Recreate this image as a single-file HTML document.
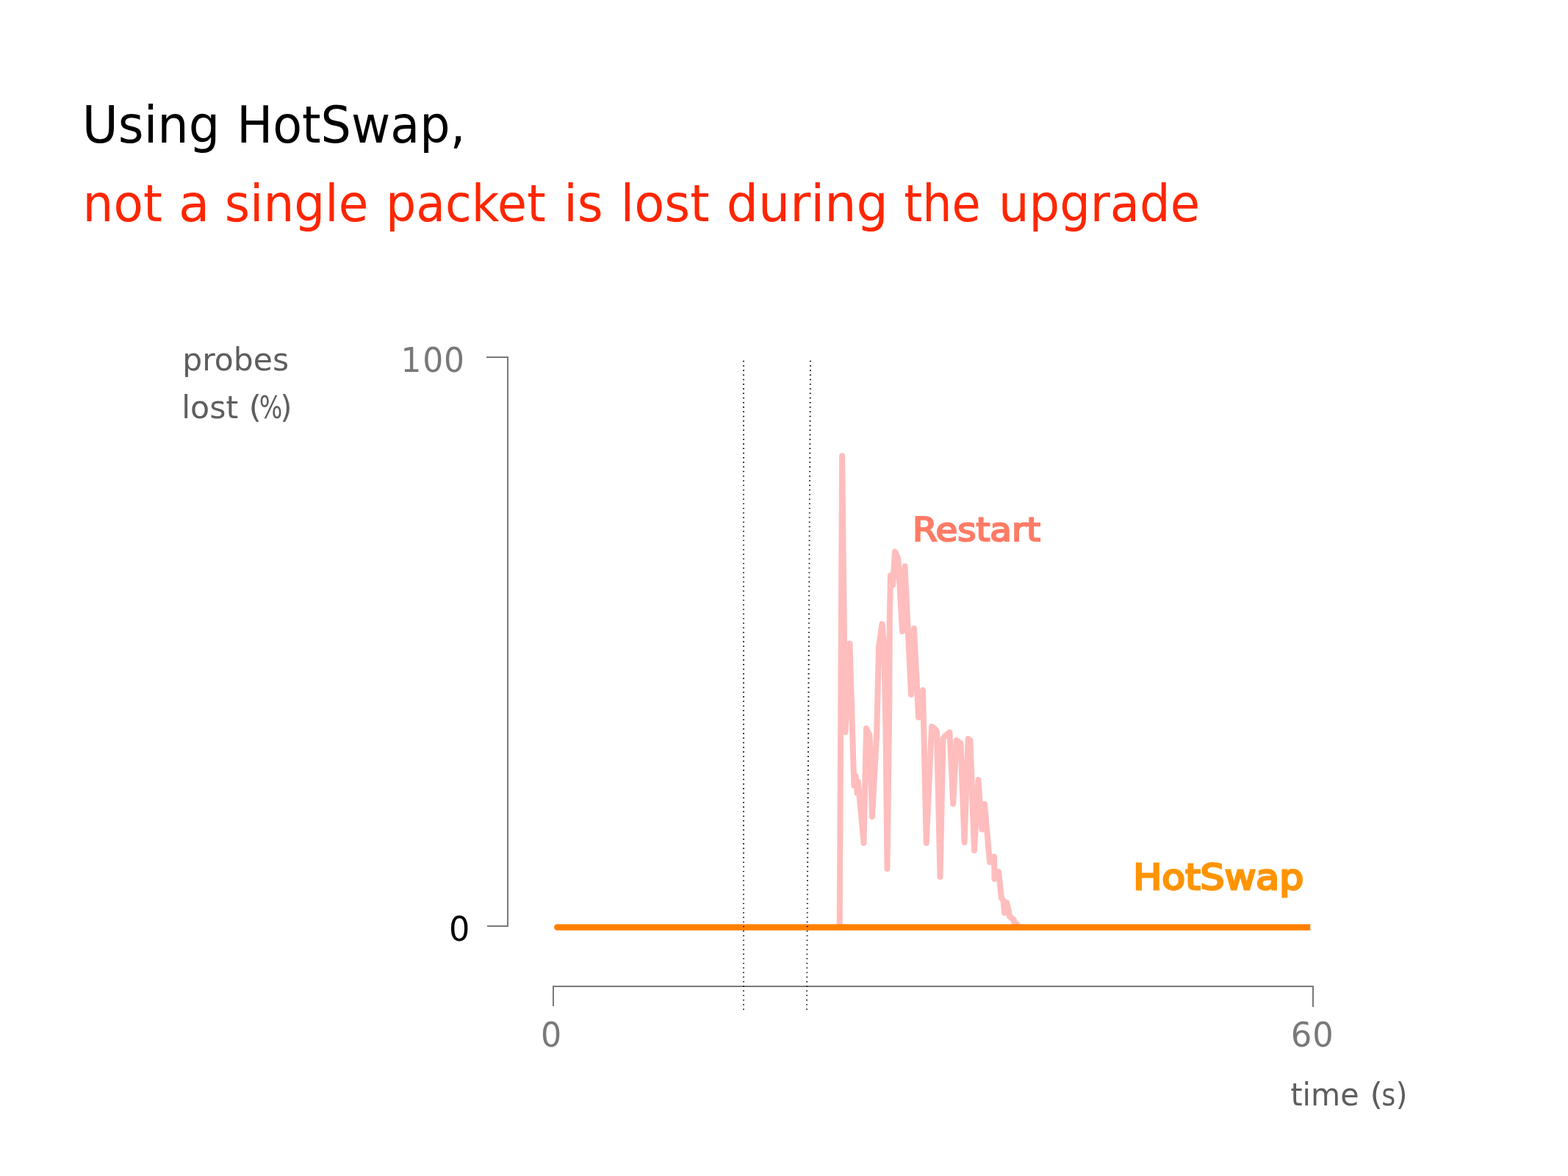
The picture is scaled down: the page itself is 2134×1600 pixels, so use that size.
<!DOCTYPE html>
<html><head><meta charset="utf-8"><title>Using HotSwap</title>
<style>
html,body{margin:0;padding:0;background:#fff;width:2134px;height:1600px;overflow:hidden}
svg{display:block}
text{font-family:"DejaVu Sans","Liberation Sans",sans-serif}
</style></head><body>
<svg width="2134" height="1600" viewBox="0 0 2134 1600">
<rect width="2134" height="1600" fill="#fff"/>
<text y="194.0" font-size="69.5" fill="#000"><tspan x="111.82" textLength="187.55" lengthAdjust="spacingAndGlyphs">Using</tspan> <tspan x="322.17" textLength="311.2" lengthAdjust="spacingAndGlyphs">HotSwap,</tspan></text>
<text y="301.0" font-size="69.5" fill="#ff2600"><tspan x="112.6" textLength="108.19" lengthAdjust="spacingAndGlyphs">not</tspan> <tspan x="243.12" textLength="42.34" lengthAdjust="spacingAndGlyphs">a</tspan> <tspan x="305.65" textLength="195.74" lengthAdjust="spacingAndGlyphs">single</tspan> <tspan x="524.88" textLength="217.77" lengthAdjust="spacingAndGlyphs">packet</tspan> <tspan x="767.2" textLength="53.72" lengthAdjust="spacingAndGlyphs">is</tspan> <tspan x="844.5" textLength="121.16" lengthAdjust="spacingAndGlyphs">lost</tspan> <tspan x="988.76" textLength="219.94" lengthAdjust="spacingAndGlyphs">during</tspan> <tspan x="1230.28" textLength="104.42" lengthAdjust="spacingAndGlyphs">the</tspan> <tspan x="1358.88" textLength="274.27" lengthAdjust="spacingAndGlyphs">upgrade</tspan></text>
<text y="503.8" font-size="43.5" fill="#5e5e5e"><tspan x="248.27" textLength="144.89" lengthAdjust="spacingAndGlyphs">probes</tspan></text>
<text y="568.7" font-size="43.5" fill="#5e5e5e"><tspan x="247.28" textLength="76.94" lengthAdjust="spacingAndGlyphs">lost</tspan> <tspan x="338.51" textLength="17.49" lengthAdjust="spacingAndGlyphs">(</tspan><tspan x="352.77" textLength="31.62" lengthAdjust="spacingAndGlyphs">%</tspan><tspan x="381.39" textLength="15.9" lengthAdjust="spacingAndGlyphs">)</tspan></text>
<text y="506.15" font-size="46.2" fill="#797979"><tspan x="545.55" textLength="27.91" lengthAdjust="spacingAndGlyphs">1</tspan><tspan x="575.14" textLength="28.04" lengthAdjust="spacingAndGlyphs">0</tspan><tspan x="603.94" textLength="28.04" lengthAdjust="spacingAndGlyphs">0</tspan></text>
<text y="1280.05" font-size="46.2" fill="#000"><tspan x="611.0" textLength="28.41" lengthAdjust="spacingAndGlyphs">0</tspan></text>
<text y="1424.15" font-size="46.2" fill="#797979"><tspan x="736.01" textLength="28.29" lengthAdjust="spacingAndGlyphs">0</tspan></text>
<text y="1424.15" font-size="46.2" fill="#797979"><tspan x="1756.78" textLength="28.66" lengthAdjust="spacingAndGlyphs">6</tspan><tspan x="1786.19" textLength="28.53" lengthAdjust="spacingAndGlyphs">0</tspan></text>
<text y="1503.9" font-size="43.5" fill="#5e5e5e"><tspan x="1756.45" textLength="93.21" lengthAdjust="spacingAndGlyphs">time</tspan> <tspan x="1864.41" textLength="17.49" lengthAdjust="spacingAndGlyphs">(</tspan><tspan x="1880.32" textLength="19.09" lengthAdjust="spacingAndGlyphs">s</tspan><tspan x="1899.72" textLength="15.75" lengthAdjust="spacingAndGlyphs">)</tspan></text>
<path d="M662 486H691V1260H663" fill="none" stroke="#797979" stroke-width="2"/>
<path d="M753 1369V1342H1787V1370" fill="none" stroke="#797979" stroke-width="2"/>
<polyline points="1142.7,1262 1146.1,620.2 1150.5,996 1156.5,875.5 1162.3,1068.5 1164.7,1056 1166.5,1079 1167.8,1063.4 1175.5,1147 1179,991 1183.5,1000 1187,1111 1193.2,998 1196,880 1200.5,849 1202.5,870 1204,915 1205.5,1000 1207.5,1182 1210.3,960 1210.8,840 1212,783 1215,796 1218,750.5 1222.3,760 1228,859 1231.5,770.5 1240,945 1244,855 1250,976 1256,939 1260.7,1147 1268,988.5 1271.5,991 1275,995 1279.5,1193 1283.5,1005 1286.5,1001 1292.5,996.5 1297.2,1093.7 1301.7,1007.2 1307.5,1011 1312.5,1146 1317.6,1005 1320.5,1007.5 1326,1157 1331.4,1061 1336.4,1128.5 1340,1094 1347,1173 1353,1165.5 1353.5,1196 1359,1186 1363,1222 1365.5,1225 1367,1242 1370,1228 1372.5,1238 1374,1247 1379.5,1251 1380.5,1256 1384,1257.5 1386,1261" fill="none" stroke="#ffbdbd" stroke-width="8" stroke-linejoin="round" stroke-linecap="round"/>
<rect x="758.2" y="1257.4" width="1025.1" height="8.4" fill="#ff8000"/>
<circle cx="758.2" cy="1261.6" r="4.2" fill="#ff8000"/>
<line x1="1012" y1="490.8" x2="1012" y2="1374.5" stroke="#000" stroke-width="2" stroke-dasharray="1.4 4.853"/>
<line x1="1103" y1="490.8" x2="1098" y2="1374.5" stroke="#000" stroke-width="2" stroke-dasharray="1.4 4.853"/>
<text x="1241.94" y="735.8" font-size="44.6" fill="#ff7b66" stroke="#ff7b66" stroke-width="2.2" stroke-linejoin="miter" stroke-miterlimit="2" textLength="173.98" lengthAdjust="spacingAndGlyphs">Restart</text>
<text x="1542.15" y="1209.5" font-size="48.1" fill="#ff9400" stroke="#ff9400" stroke-width="2.8" stroke-linejoin="miter" stroke-miterlimit="2" textLength="232.17" lengthAdjust="spacingAndGlyphs">HotSwap</text>
</svg>
</body></html>
